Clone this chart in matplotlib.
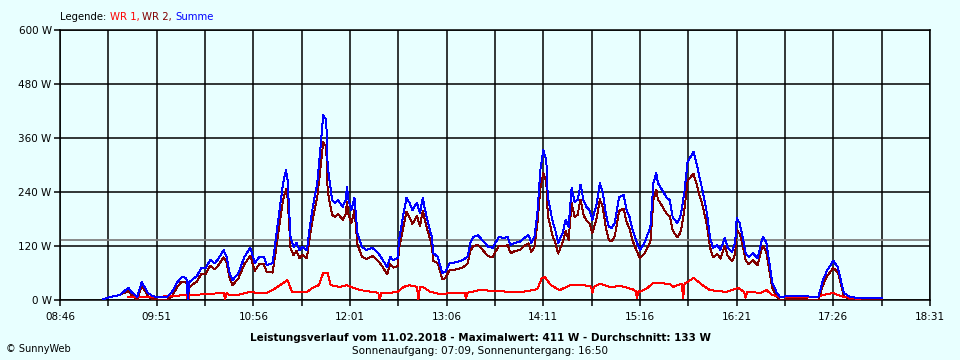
import matplotlib
matplotlib.use("Agg")
import matplotlib.pyplot as plt
from matplotlib.ticker import FixedLocator

# Summe / WR 2 samples (shared time axis)
sum_times = ["09:15", "09:20", "09:26", "09:32", "09:34", "09:38", "09:41", "09:45", "09:48", "09:51",
             "09:58", "10:01", "10:05", "10:08", "10:11", "10:12", "10:13", "10:18", "10:21", "10:24",
             "10:27", "10:30", "10:32", "10:36", "10:38", "10:40", "10:42", "10:46", "10:50", "10:54",
             "10:57", "11:00", "11:03", "11:05", "11:09", "11:11", "11:14", "11:16", "11:18", "11:19",
             "11:21", "11:23", "11:25", "11:27", "11:29", "11:32", "11:34", "11:36", "11:39", "11:41",
             "11:43", "11:45", "11:46", "11:49", "11:51", "11:53", "11:56", "11:58", "11:59", "12:00",
             "12:02", "12:04", "12:06", "12:09", "12:12", "12:16", "12:20", "12:23", "12:26", "12:28",
             "12:30", "12:33", "12:34", "12:37", "12:39", "12:41", "12:43", "12:46", "12:48", "12:50",
             "12:51", "12:53", "12:56", "12:57", "13:00", "13:03", "13:05", "13:08", "13:13", "13:17",
             "13:20", "13:22", "13:24", "13:27", "13:30", "13:34", "13:37", "13:41", "13:44", "13:47",
             "13:49", "13:52", "13:55", "13:59", "14:01", "14:03", "14:05", "14:07", "14:09", "14:11",
             "14:13", "14:14", "14:17", "14:19", "14:21", "14:24", "14:26", "14:28", "14:30", "14:32",
             "14:34", "14:36", "14:38", "14:40", "14:42", "14:44", "14:47", "14:49", "14:51", "14:53",
             "14:55", "14:57", "14:59", "15:02", "15:05", "15:07", "15:09", "15:11", "15:14", "15:16",
             "15:19", "15:23", "15:25", "15:27", "15:28", "15:31", "15:34", "15:36", "15:38", "15:41",
             "15:43", "15:44", "15:46", "15:48", "15:50", "15:52", "15:54", "15:56", "15:58", "16:01",
             "16:03", "16:05", "16:08", "16:10", "16:13", "16:15", "16:18", "16:20", "16:21", "16:23",
             "16:25", "16:27", "16:29", "16:32", "16:35", "16:38", "16:39", "16:41", "16:43", "16:45",
             "16:48", "16:50", "16:58", "17:06", "17:12", "17:16", "17:19", "17:22", "17:26", "17:29",
             "17:31", "17:33", "17:37", "17:44", "17:59"]
summe = [2, 7, 11, 27, 18, 7, 40, 16, 9, 7,
         7, 16, 40, 51, 49, 2, 40, 53, 71, 71,
         89, 82, 89, 111, 96, 60, 44, 60, 96, 116,
         82, 96, 96, 78, 82, 133, 211, 260, 289, 267,
         140, 118, 127, 111, 118, 111, 162, 207, 260, 333,
         411, 400, 296, 222, 216, 222, 207, 222, 251, 222,
         200, 227, 149, 118, 111, 116, 104, 89, 73, 96,
         89, 93, 133, 193, 227, 216, 200, 216, 193, 227,
         207, 178, 140, 104, 96, 60, 62, 82, 84, 89,
         96, 127, 140, 144, 133, 118, 116, 140, 138, 140,
         122, 127, 129, 140, 144, 127, 140, 193, 289, 333,
         311, 229, 178, 156, 127, 149, 178, 162, 249, 218,
         222, 256, 222, 207, 200, 178, 216, 260, 238, 193,
         162, 160, 171, 229, 233, 200, 184, 156, 127, 111,
         127, 162, 260, 282, 260, 244, 227, 222, 184, 171,
         184, 200, 244, 307, 318, 329, 304, 273, 244, 193,
         140, 116, 122, 111, 138, 116, 107, 127, 182, 171,
         140, 104, 96, 104, 93, 133, 140, 127, 82, 38,
         16, 7, 9, 9, 7, 7, 44, 67, 87, 73,
         44, 16, 7, 4, 4]
wr2 = [2, 7, 11, 20, 11, 0, 33, 9, 2, 1,
       1, 7, 30, 41, 38, 2, 29, 41, 58, 58,
       76, 68, 75, 95, 83, 49, 33, 48, 80, 98,
       65, 80, 80, 62, 61, 106, 178, 222, 246, 227,
       115, 100, 109, 93, 100, 93, 140, 180, 229, 288,
       351, 340, 241, 189, 184, 192, 178, 191, 218, 189,
       171, 200, 124, 96, 91, 98, 87, 73, 57, 80,
       72, 75, 113, 164, 196, 183, 169, 187, 164, 198,
       182, 156, 122, 87, 82, 47, 48, 67, 68, 73,
       80, 110, 120, 122, 112, 97, 96, 120, 119, 122,
       104, 109, 111, 122, 126, 107, 118, 169, 249, 282,
       262, 189, 145, 127, 103, 128, 154, 133, 216, 185,
       189, 223, 189, 176, 170, 149, 184, 224, 205, 162,
       133, 131, 141, 198, 203, 173, 159, 132, 107, 93,
       103, 130, 222, 245, 224, 208, 191, 186, 155, 139,
       149, 162, 204, 265, 273, 280, 259, 233, 211, 166,
       118, 95, 102, 92, 120, 98, 86, 102, 155, 148,
       122, 88, 80, 88, 77, 115, 120, 105, 64, 27,
       8, 0, 2, 2, 0, 0, 33, 54, 71, 62,
       35, 9, 2, 0, 0]

# WR 1 samples (own time axis, incl. short dropouts)
wr1_times = ["09:32", "09:51", "10:02", "10:11", "10:12", "10:13", "10:25", "10:36", "10:37", "10:38",
             "10:40", "10:45", "10:54", "10:58", "11:05", "11:09", "11:14", "11:19", "11:22", "11:27",
             "11:32", "11:36", "11:40", "11:43", "11:46", "11:48", "11:54", "11:59", "12:03", "12:08",
             "12:16", "12:20", "12:21", "12:22", "12:28", "12:33", "12:37", "12:41", "12:46", "12:47",
             "12:48", "12:50", "12:55", "13:02", "13:10", "13:18", "13:19", "13:20", "13:28", "13:40",
             "13:49", "13:57", "14:07", "14:10", "14:12", "14:16", "14:22", "14:29", "14:38", "14:43",
             "14:44", "14:45", "14:49", "14:56", "15:03", "15:11", "15:13", "15:14", "15:15", "15:16",
             "15:21", "15:25", "15:36", "15:38", "15:44", "15:45", "15:46", "15:52", "15:58", "16:03",
             "16:14", "16:22", "16:26", "16:27", "16:28", "16:37", "16:41", "16:45", "16:50", "17:15",
             "17:19", "17:26", "17:29", "17:33", "17:39", "17:44"]
wr1 = [7, 7, 9, 11, 0, 11, 13, 16, 2, 16,
       11, 11, 18, 16, 16, 22, 33, 44, 18, 18,
       18, 27, 33, 60, 60, 33, 29, 33, 27, 22,
       18, 16, 0, 16, 16, 18, 29, 33, 29, 2,
       29, 29, 18, 13, 16, 16, 4, 16, 22, 20,
       18, 18, 24, 49, 51, 33, 22, 33, 33, 30,
       16, 29, 36, 29, 31, 24, 20, 5, 20, 18,
       27, 38, 36, 29, 36, 5, 36, 49, 33, 22,
       18, 27, 18, 5, 18, 16, 22, 11, 7, 7,
       11, 16, 11, 7, 4, 2]

average = 133
y_ticks = [0, 120, 240, 360, 480, 600]
x_labels = ["08:46", "09:51", "10:56", "12:01", "13:06", "14:11", "15:16", "16:21", "17:26", "18:31"]

BG = "#E8FFFF"


def to_min(s):
    h, m = s.split(":")
    return int(h) * 60 + int(m)


t_sum = [to_min(s) for s in sum_times]
t_wr1 = [to_min(s) for s in wr1_times]
major = [to_min(s) for s in x_labels]
minor = [(a + b) / 2 for a, b in zip(major[:-1], major[1:])]

fig = plt.figure(figsize=(9.6, 3.6), dpi=100, facecolor=BG)
ax = fig.add_axes([60 / 960, 60 / 360, 870 / 960, 270 / 360], facecolor=BG)

ax.set_xlim(major[0], major[-1])
ax.set_ylim(0, 600)

# grid
for x in major + minor:
    ax.axvline(x, color="black", lw=1.1, zorder=1)
for y in y_ticks:
    ax.axhline(y, color="black", lw=1.1, zorder=1)
ax.axhline(average, color="#808080", lw=1.3, zorder=2)

ax.plot(t_sum, wr2, color="#800000", lw=0.7, zorder=3, antialiased=False)
ax.plot(t_wr1, wr1, color="#FF0000", lw=0.7, zorder=4, antialiased=False)
ax.plot(t_sum, summe, color="#0000FF", lw=0.7, zorder=5, antialiased=False)

for sp in ax.spines.values():
    sp.set_linewidth(1.1)

ax.xaxis.set_major_locator(FixedLocator(major))
ax.xaxis.set_minor_locator(FixedLocator(minor))
ax.set_xticklabels(x_labels)
ax.set_yticks(y_ticks)
ax.set_yticklabels([f"{v} W" for v in y_ticks])
ax.tick_params(axis="both", which="both", direction="out", length=4, width=1.1,
               labelsize=7.5, colors="black")
ax.tick_params(axis="x", pad=5)
ax.tick_params(axis="y", pad=2)

# legend line at top
fig.canvas.draw()
renderer = fig.canvas.get_renderer()
parts = [("Legende: ", "black"), ("WR 1, ", "#FF0000"), ("WR 2, ", "#800000"), ("Summe", "#0000FF")]
xpos = 60 / 960
for txt, col in parts:
    t = fig.text(xpos, 1 - 17 / 360, txt, color=col, fontsize=7.3, va="center", ha="left")
    bb = t.get_window_extent(renderer)
    xpos += bb.width / 960

fig.text(0.5, 1 - 338 / 360,
         "Leistungsverlauf vom 11.02.2018 - Maximalwert: 411 W - Durchschnitt: 133 W",
         ha="center", va="center", fontsize=7.5, fontweight="bold")
fig.text(0.5, 1 - 351 / 360, "Sonnenaufgang: 07:09, Sonnenuntergang: 16:50",
         ha="center", va="center", fontsize=7.5)
fig.text(6 / 960, 1 - 349 / 360, "© SunnyWeb", ha="left", va="center", fontsize=7)

fig.savefig("out.png", dpi=100, facecolor=BG)
